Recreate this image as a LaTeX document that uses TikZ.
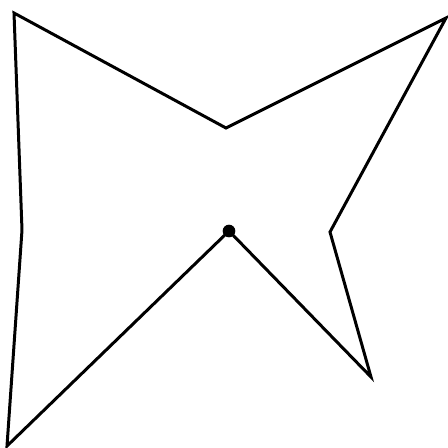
\documentclass[tikz,border=0pt]{standalone}
\begin{document}
\begin{tikzpicture}[
  x=0.01cm,
  y=-0.01cm,
  edge/.style={draw=black,line width=0.85pt,line join=miter},
  pivot/.style={circle,fill=black,inner sep=0pt,minimum size=3.6pt}
]
  \useasboundingbox (0,0) rectangle (447,448);
  \coordinate (tl) at (14,13);
  \coordinate (tm) at (226,128);
  \coordinate (tr) at (446,18);
  \coordinate (rm) at (330,232);
  \coordinate (br) at (371,377);
  \node[pivot] (c) at (229,231) {};
  \coordinate (bl) at (7,446);
  \coordinate (lm) at (22,230);
  \draw[edge] (tl)--(tm)--(tr)--(rm)--(br)--(c.center)--(bl)--(lm)--cycle;
\end{tikzpicture}
\end{document}
